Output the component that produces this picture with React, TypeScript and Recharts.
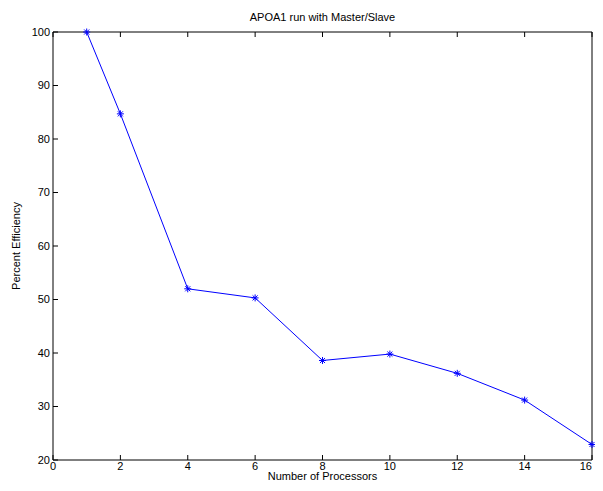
import { LineChart, Line, XAxis, YAxis } from "recharts";

const processors = [1, 2, 4, 6, 8, 10, 12, 14, 16];
const efficiency = [100, 84.7, 52, 50.3, 38.6, 39.8, 36.2, 31.2, 22.9];
const xTicks = [0, 2, 4, 6, 8, 10, 12, 14, 16];
const yTicks = [20, 30, 40, 50, 60, 70, 80, 90, 100];

const data = processors.map((p, i) => ({ p, eff: efficiency[i] }));

const FONT = "Arial, 'Liberation Sans', Helvetica, sans-serif";
const blank = () => "";

function StarDot(props: any) {
  const { cx, cy } = props;
  if (cx == null || cy == null) return null;
  const r = 3.5;
  const d = r * 0.72;
  return (
    <g stroke="#0000ff" strokeWidth={1}>
      <line x1={cx - r} y1={cy} x2={cx + r} y2={cy} />
      <line x1={cx} y1={cy - r} x2={cx} y2={cy + r} />
      <line x1={cx - d} y1={cy - d} x2={cx + d} y2={cy + d} />
      <line x1={cx - d} y1={cy + d} x2={cx + d} y2={cy - d} />
    </g>
  );
}

// last label is kept inside the page edge
function XTick(props: any) {
  const { x, y, payload, index } = props;
  const last = index === xTicks.length - 1;
  return (
    <text x={x} y={y} dy="0.71em" textAnchor={last ? "end" : "middle"} fontSize={11} fill="#000" fontFamily={FONT}>
      {payload.value}
    </text>
  );
}

export default function App() {
  const tickStyle = { fontSize: 11, fill: "#000", fontFamily: FONT };
  return (
    <div style={{ position: "relative", margin: -8, width: 603, height: 491, overflow: "hidden", fontFamily: FONT, background: "#fff" }}>
      <style>{`html, body { overflow: hidden; }`}</style>
      <div
        style={{
          position: "absolute",
          top: 11,
          left: 53,
          width: 539,
          textAlign: "center",
          fontSize: 11,
          lineHeight: "13px",
          color: "#000",
        }}
      >
        APOA1 run with Master/Slave
      </div>
      <LineChart width={603} height={491} data={data} margin={{ top: 31, right: 10, bottom: 0, left: 0 }}>
        <XAxis
          dataKey="p"
          type="number"
          domain={[0, 16]}
          ticks={xTicks}
          height={31}
          tickSize={-5}
          tickMargin={7}
          interval={0}
          stroke="#000"
          tick={<XTick />}
          label={{ value: "Number of Processors", position: "insideBottom", offset: 11, fontSize: 11, fill: "#000", fontFamily: FONT }}
        />
        <XAxis
          xAxisId="top"
          dataKey="p"
          type="number"
          orientation="top"
          domain={[0, 16]}
          ticks={xTicks}
          height={1}
          tickSize={-5}
          interval={0}
          stroke="#000"
          tickFormatter={blank}
        />
        <YAxis
          domain={[20, 100]}
          ticks={yTicks}
          width={53}
          tickSize={-5}
          tickMargin={8}
          interval={0}
          stroke="#000"
          tick={tickStyle}
          label={{ value: "Percent Efficiency", angle: -90, position: "insideLeft", offset: 16, fontSize: 11, fill: "#000", fontFamily: FONT, style: { textAnchor: "middle" } }}
        />
        <YAxis
          yAxisId="right"
          orientation="right"
          domain={[20, 100]}
          ticks={yTicks}
          width={1}
          tickSize={-5}
          interval={0}
          stroke="#000"
          tickFormatter={blank}
        />
        <Line
          type="linear"
          dataKey="eff"
          stroke="#0000ff"
          strokeWidth={1}
          dot={<StarDot />}
          activeDot={false}
          isAnimationActive={false}
        />
      </LineChart>
    </div>
  );
}
